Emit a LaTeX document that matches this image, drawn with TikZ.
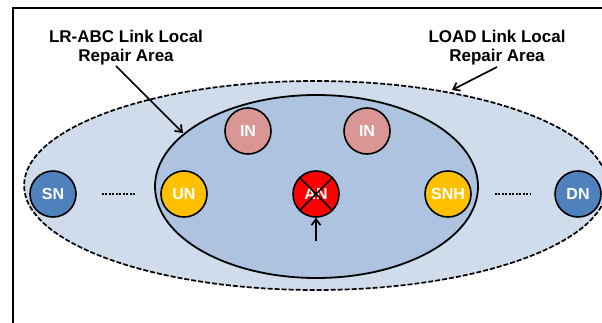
\documentclass[tikz,border=0pt]{standalone}
\usepackage{fontspec}
\setmainfont{Liberation Sans}
\usetikzlibrary{arrows.meta,shapes.geometric}
\definecolor{outer_blue}{HTML}{D0DCEC}
\definecolor{inner_blue}{HTML}{ADC3DF}
\definecolor{node_blue}{HTML}{4F81BD}
\definecolor{node_gold}{HTML}{FFC000}
\definecolor{node_pink}{HTML}{D99694}

\begin{document}
\begin{tikzpicture}[x=1pt,y=-1pt,
	main_node/.style={circle,draw,line width=1.6pt,minimum size=46pt,inner sep=0pt,text=white,font=\bfseries\fontsize{16}{16}\selectfont},
	area_label/.style={align=center,font=\bfseries\fontsize{17}{19}\selectfont},
	area_arrow/.style={-{Straight Barb[length=6pt,width=9pt]},line width=1.7pt},
	dot_line/.style={line width=2.4pt,dash pattern=on 2pt off 1.5pt}]
	
	\useasboundingbox (0,0) rectangle (602,323);
	\clip (0,0) rectangle (602,323);
	
	\node[draw,line width=2.2pt,minimum width=620pt,minimum height=340pt,anchor=north west,inner sep=0pt] (frame) at (12,7) {};
	
	\node[ellipse,draw,fill=outer_blue,line width=1.7pt,dash pattern=on 5pt off 2pt,minimum width=583pt,minimum height=209pt,inner sep=0pt] (load_area) at (315.6,185.5) {};
	\node[ellipse,draw,fill=inner_blue,line width=1.8pt,minimum width=323pt,minimum height=183pt,inner sep=0pt] (abc_area) at (316.5,186.5) {};
	
	\node[main_node,fill=node_blue] (sn) at (53,194) {SN};
	\node[main_node,fill=node_gold] (un) at (184,194) {UN};
	\node[main_node,fill=node_pink] (in1) at (248,131) {IN};
	\node[main_node,fill=node_pink] (in2) at (367,131) {IN};
	\node[main_node,fill=red] (an) at (316,194) {AN};
	\node[main_node,fill=node_gold] (snh) at (448,194) {SNH};
	\node[main_node,fill=node_blue] (dn) at (578,194) {DN};
	
	\node[area_label] (abc_label) at (126,48) {LR-ABC Link Local\\Repair Area};
	\node[area_label] (load_label) at (497,48) {LOAD Link Local\\Repair Area};
	
	\coordinate (abc_start) at (116,66);
	\coordinate (abc_end) at (183,133);
	\coordinate (load_start) at (497,67);
	\coordinate (load_end) at (452,90);
	\coordinate (fail_start) at (316,241);
	
	\draw[area_arrow] (abc_start) -- (abc_end);
	\draw[area_arrow] (load_start) -- (load_end);
	\draw[area_arrow] (fail_start) -- (an);
	
	\draw[line width=1.6pt] (an.45) -- (an.225);
	\draw[line width=1.6pt] (an.135) -- (an.315);
	
	\draw[dot_line,shorten <=25pt,shorten >=25pt] (sn) -- (un);
	\draw[dot_line,shorten <=23pt,shorten >=24pt] (snh) -- (dn);
\end{tikzpicture}
\end{document}
